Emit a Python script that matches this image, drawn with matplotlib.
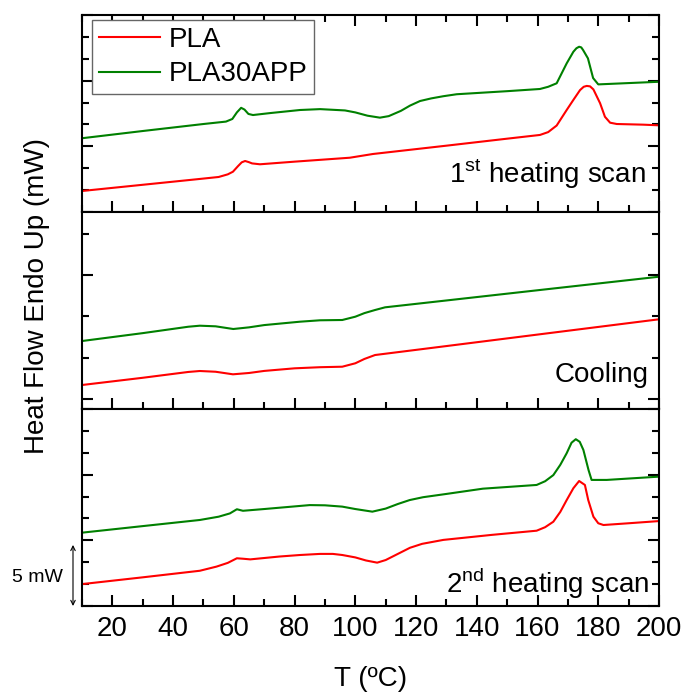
import matplotlib
matplotlib.use("Agg")
import matplotlib.pyplot as plt
from matplotlib.ticker import MultipleLocator

plt.rcParams['font.family'] = ['Liberation Sans', 'DejaVu Sans']
plt.rcParams['mathtext.fontset'] = 'custom'
plt.rcParams['mathtext.rm'] = 'Liberation Sans'

# ---------------- data ----------------
# 1st heating scan
h1_pla_T = [10, 48.8, 55, 58, 59.7, 61.4, 62.6, 63.7, 64.9, 66, 68.6, 80, 98.2, 105.8, 130, 150, 160.8,
            163.5, 166.3, 169.6, 171.8, 174, 175.2, 176.2, 177.3, 178.4, 180.6, 182.2, 183.9, 186.1, 194.8, 200]
h1_pla_y = [0.96, 1.51, 1.60, 1.72, 1.84, 2.10, 2.27, 2.33, 2.28, 2.22, 2.18, 2.30, 2.48, 2.65, 3.03, 3.35, 3.52,
            3.65, 3.95, 4.66, 5.12, 5.57, 5.72, 5.76, 5.74, 5.60, 4.97, 4.35, 4.08, 4.02, 3.99, 3.96]
h1_app_T = [10, 30, 50, 57.4, 59.5, 61.0, 62.4, 63.5, 64.8, 66.3, 72, 81.8, 88.4, 96.6, 100, 104,
            108.1, 111, 115, 118, 121.3, 125, 129, 133.4, 150, 160.8, 163.5, 166.3, 169.6, 171.8,
            172.8, 173.7, 174.4, 175.0, 176.6, 178.3, 180, 190, 200]
h1_app_y = [3.37, 3.70, 4.02, 4.13, 4.25, 4.55, 4.76, 4.68, 4.48, 4.43, 4.52, 4.66, 4.70, 4.64, 4.55, 4.40,
            4.31, 4.38, 4.62, 4.86, 5.07, 5.19, 5.29, 5.38, 5.52, 5.62, 5.72, 5.88, 6.79, 7.32,
            7.48, 7.55, 7.52, 7.40, 7.02, 6.12, 5.83, 5.89, 5.95]

# cooling
c_pla_T = [10, 30, 45, 48.8, 54, 59.7, 65, 70, 80, 88.4, 95.7, 100, 103, 106.5, 130, 160, 200]
c_pla_y = [0.339, 0.514, 0.655, 0.678, 0.66, 0.598, 0.63, 0.68, 0.743, 0.77, 0.782, 0.865, 0.97, 1.065,
           1.282, 1.56, 1.93]
c_app_T = [10, 30, 45, 48.8, 54, 59.8, 65, 70, 81.8, 88.4, 95.7, 100, 103, 106.5, 109.8, 130, 160, 200]
c_app_y = [1.404, 1.595, 1.75, 1.775, 1.76, 1.695, 1.735, 1.79, 1.872, 1.906, 1.913, 1.993, 2.08, 2.155,
           2.22, 2.386, 2.633, 2.961]

# 2nd heating scan
h2_pla_T = [10, 30, 48.8, 54.3, 58, 61, 63, 65.4, 75, 81.8, 88.4, 92.6, 95.7, 100, 103.5, 107.2, 110,
            114, 118, 122, 129, 145, 159.7, 162.5, 165.2, 167.5, 169.6, 171.8, 173.7, 175.6, 176.7, 178.4,
            180, 181.7, 190, 200]
h2_pla_y = [1.0, 1.31, 1.61, 1.80, 1.97, 2.18, 2.16, 2.13, 2.26, 2.33, 2.38, 2.38, 2.33, 2.22, 2.08, 1.98, 2.10,
            2.38, 2.66, 2.84, 3.02, 3.25, 3.44, 3.60, 3.85, 4.30, 4.84, 5.38, 5.71, 5.53, 4.84, 4.08,
            3.78, 3.70, 3.78, 3.88]
h2_app_T = [10, 30, 48.8, 55, 58.7, 61, 63, 70, 85, 90, 95.7, 100, 105.6, 110, 114, 117.9, 122.3, 130, 142,
            159.7, 162.5, 165.2, 167.5, 169.6, 171.2, 172.6, 173.9, 175.1, 176.8, 177.8, 182.8, 200]
h2_app_y = [3.35, 3.65, 3.93, 4.08, 4.23, 4.42, 4.35, 4.43, 4.61, 4.60, 4.54, 4.43, 4.31, 4.45, 4.66, 4.84, 4.97,
            5.12, 5.36, 5.53, 5.70, 5.98, 6.45, 6.98, 7.46, 7.62, 7.50, 7.13, 6.21, 5.76, 5.76, 5.91]

series_labels = ["PLA", "PLA30APP"]
panel_labels = ["1$^{\\mathrm{st}}$ heating scan", "Cooling", "2$^{\\mathrm{nd}}$ heating scan"]
x_ticks = [20, 40, 60, 80, 100, 120, 140, 160, 180, 200]

RED = "#ff0000"
GREEN = "#008000"
FS = 20

W, H = 684, 695
fig = plt.figure(figsize=(W / 100, H / 100), dpi=100)

left = 82 / W
width = (659 - 82) / W
ph = 197 / H
ax_top = fig.add_axes([left, 1 - 212 / H, width, ph])
ax_mid = fig.add_axes([left, 1 - 409 / H, width, ph])
ax_bot = fig.add_axes([left, 1 - 606 / H, width, ph])

panels = [
    (ax_top, h1_pla_T, h1_pla_y, h1_app_T, h1_app_y, (0, 9), 1, 3),
    (ax_mid, c_pla_T, c_pla_y, c_app_T, c_app_y, (-0.242, 4.528), 1, 3),
    (ax_bot, h2_pla_T, h2_pla_y, h2_app_T, h2_app_y, (0, 9), 1, 3),
]

for i, (ax, pT, py, aT, ay, ylim, ymin, ymaj) in enumerate(panels):
    ax.plot(pT, py, color=RED, lw=1.5, label=series_labels[0], solid_joinstyle='round')
    ax.plot(aT, ay, color=GREEN, lw=1.5, label=series_labels[1], solid_joinstyle='round')
    ax.set_xlim(10, 200)
    ax.set_ylim(*ylim)
    ax.xaxis.set_major_locator(MultipleLocator(20))
    ax.xaxis.set_minor_locator(MultipleLocator(10))
    ax.yaxis.set_major_locator(MultipleLocator(ymaj))
    ax.yaxis.set_minor_locator(MultipleLocator(ymin))
    for s in ax.spines.values():
        s.set_linewidth(1.5)
    ax.tick_params(which='both', direction='in', left=True, right=True,
                   bottom=True, top=(i == 0), labelleft=False,
                   labelbottom=(i == 2), width=1.5, labelsize=FS, pad=7)
    ax.tick_params(which='major', length=8)
    ax.tick_params(which='minor', length=5)
    if i == 2:
        ax.set_xticks(x_ticks)
        ax.set_xticklabels([str(t) for t in x_ticks])
    if i == 0:
        leg = ax.legend(loc='upper left', bbox_to_anchor=(0.0173, 0.9746), borderaxespad=0,
                        fontsize=FS, frameon=True, fancybox=False, framealpha=1,
                        edgecolor='#666666', handlelength=2.2, handletextpad=0.3,
                        labelspacing=0.3, borderpad=0.25)
        leg.get_frame().set_linewidth(1.0)

ax_top.text(0.9775, 0.147, panel_labels[0], transform=ax_top.transAxes,
            ha='right', va='baseline', fontsize=FS)
ax_mid.text(0.9815, 0.137, panel_labels[1], transform=ax_mid.transAxes,
            ha='right', va='baseline', fontsize=FS)
ax_bot.text(0.983, 0.0675, panel_labels[2], transform=ax_bot.transAxes,
            ha='right', va='baseline', fontsize=FS)

# 5 mW scale arrow
ax_bot.annotate('', xy=(-0.0156, 0.0), xytext=(-0.0156, 2.79),
                xycoords=('axes fraction', 'data'), textcoords=('axes fraction', 'data'),
                arrowprops=dict(arrowstyle='<->', lw=0.8, color='black',
                                shrinkA=0, shrinkB=0, mutation_scale=8),
                annotation_clip=False)
ax_bot.text(-0.033, 1.28, "5 mW", transform=ax_bot.get_yaxis_transform(),
            ha='right', va='center', fontsize=14)

fig.text(370.5 / W, 1 - 679 / H, "T (ºC)", ha='center', va='center', fontsize=FS)
fig.text(37.5 / W, 1 - 296 / H, "Heat Flow Endo Up (mW)", ha='center', va='center',
         rotation=90, fontsize=FS)

fig.savefig("out.png", dpi=100)
